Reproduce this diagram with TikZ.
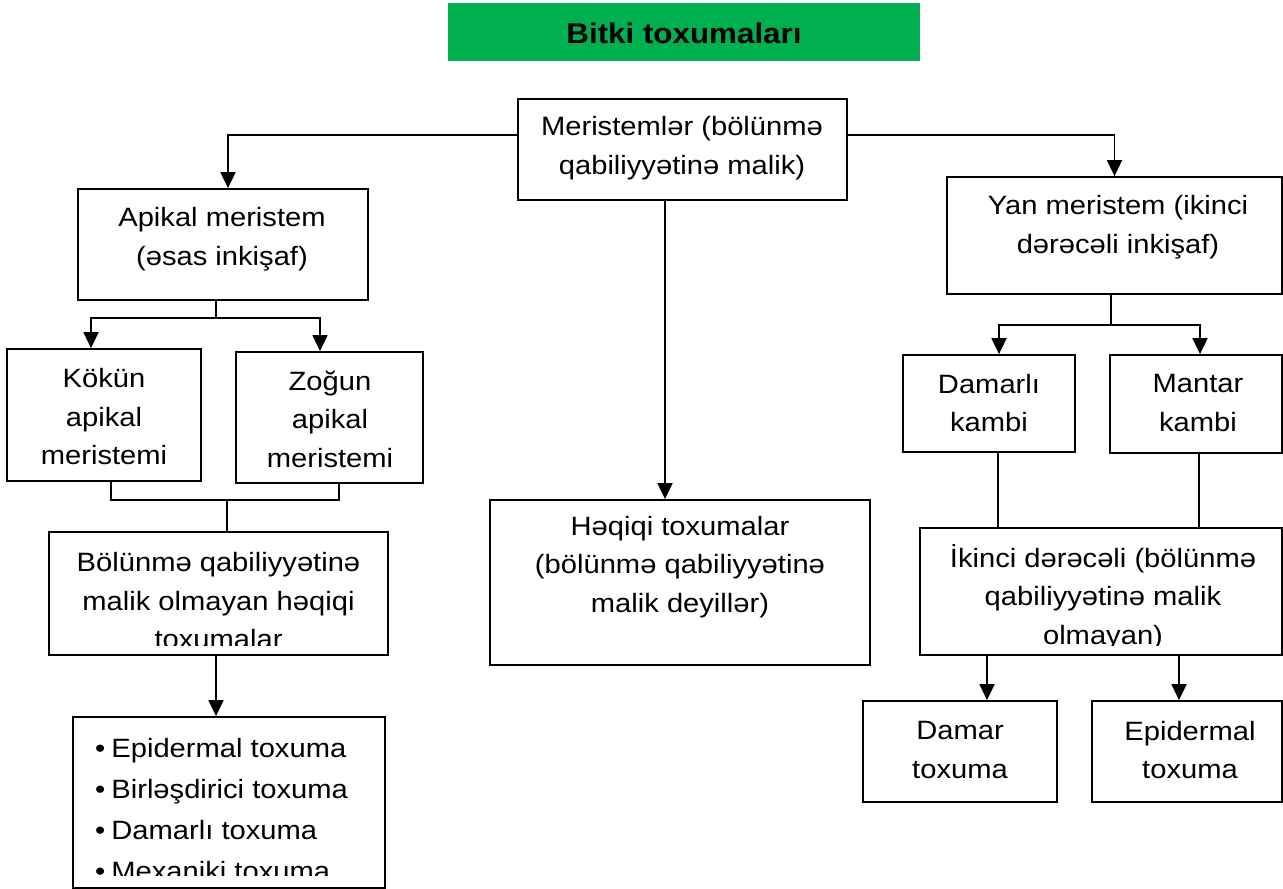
\documentclass[tikz,border=0pt]{standalone}
\usepackage{fontspec}
\setmainfont[FakeStretch=1.1]{Liberation Sans}
\usetikzlibrary{arrows.meta}
\definecolor{tgreen}{HTML}{00B050}
\newcommand{\fs}{\fontsize{26.5}{38.5}\selectfont}
\tikzset{
  box/.style={draw, line width=1.8pt, inner sep=0pt},
  txt/.style={align=center, font=\fs, inner sep=0pt},
  ln/.style={line width=1.8pt},
  arr/.style={line width=1.8pt, -{Triangle[width=15pt,length=16pt]}}
}
\begin{document}
\begin{tikzpicture}[x=1pt,y=-1pt]
\useasboundingbox (0,0) rectangle (1283,889);
% boxes
\node[fill=tgreen, minimum width=472pt, minimum height=58pt, inner sep=0pt] (title) at (684,32) {};
\node[box, minimum width=329pt, minimum height=101pt] (mer) at (682.5,149.5) {};
\node[box, minimum width=290pt, minimum height=111pt] (api) at (223,244.5) {};
\node[box, minimum width=194pt, minimum height=132pt] (kok) at (104,415) {};
\node[box, minimum width=187pt, minimum height=131pt] (zog) at (329.5,417.5) {};
\node[box, minimum width=339pt, minimum height=123pt] (bol) at (218.5,593.5) {};
\node[box, minimum width=312pt, minimum height=171pt] (list) at (229,802.5) {};
\node[box, minimum width=380pt, minimum height=165pt] (heq) at (680,582.5) {};
\node[box, minimum width=335pt, minimum height=117pt] (yan) at (1114.5,235.5) {};
\node[box, minimum width=172pt, minimum height=97pt] (dam) at (989,403.5) {};
\node[box, minimum width=172pt, minimum height=98pt] (man) at (1196,404) {};
\node[box, minimum width=362pt, minimum height=127pt] (iki) at (1101,591.5) {};
\node[box, minimum width=194pt, minimum height=101pt] (dt) at (960,751.5) {};
\node[box, minimum width=190pt, minimum height=101pt] (et) at (1187,751.5) {};
% texts
\node[txt, font=\fontsize{28.5}{32}\selectfont\bfseries] at (684,33) {Bitki toxumaları};
\node[txt] at (682,148) {Meristemlər (bölünmə\\qabiliyyətinə malik)};
\node[txt] at (222,239) {Apikal meristem\\(əsas inkişaf)};
\node[txt] at (104,417) {Kökün\\apikal\\meristemi};
\node[txt] at (330,419) {Zoğun\\apikal\\meristemi};
\begin{scope}
\clip ([yshift=10pt]bol.south west) rectangle (bol.north east);
\node[txt] at (218.5,601) {Bölünmə qabiliyyətinə\\malik olmayan həqiqi\\toxumalar};
\end{scope}
\begin{scope}
\clip ([yshift=13pt]list.south west) rectangle (list.north east);
\node[txt, align=left, anchor=west, font=\fontsize{26.5}{41}\selectfont] at (95,810) {\textbullet\hspace{6pt}Epidermal toxuma\\\textbullet\hspace{6pt}Birləşdirici toxuma\\\textbullet\hspace{6pt}Damarlı toxuma\\\textbullet\hspace{6pt}Mexaniki toxuma};
\end{scope}
\node[txt] at (680,567) {Həqiqi toxumalar\\(bölünmə qabiliyyətinə\\malik deyillər)};
\node[txt] at (1118,227) {Yan meristem (ikinci\\dərəcəli inkişaf)};
\node[txt] at (989,403) {Damarlı\\kambi};
\node[txt] at (1198,403) {Mantar\\kambi};
\begin{scope}
\clip ([yshift=10pt]iki.south west) rectangle (iki.north east);
\node[txt] at (1103,597) {İkinci dərəcəli (bölünmə\\qabiliyyətinə malik\\olmayan)};
\end{scope}
\node[txt] at (960,750) {Damar\\toxuma};
\node[txt] at (1190,750) {Epidermal\\toxuma};
% connectors
\draw[arr] ([yshift=14.5pt]mer.west) -| ([xshift=5pt]api.north);
\draw[arr] ([yshift=14.5pt]mer.east) -| (yan.north);
\draw[arr] ([xshift=-17.5pt]mer.south) -- ([xshift=-15pt]heq.north);
\coordinate (j1) at (216,318);
\draw[ln] ([xshift=-7pt]api.south) -- (j1);
\draw[arr] (j1) -| ([xshift=-13pt]kok.north);
\draw[arr] (j1) -| ([xshift=-9.5pt]zog.north);
\coordinate (j2) at (227,500);
\draw[ln] ([xshift=7pt]kok.south) |- (j2) -| ([xshift=9.5pt]zog.south);
\draw[ln] (j2) -- ([xshift=8.5pt]bol.north);
\draw[arr] ([xshift=-2.5pt]bol.south) -- ([xshift=-13pt]list.north);
\coordinate (j3) at (1111,325);
\draw[ln] ([xshift=-3.5pt]yan.south) -- (j3);
\draw[arr] (j3) -| ([xshift=10pt]dam.north);
\draw[arr] (j3) -| ([xshift=4pt]man.north);
\draw[ln] ([xshift=9pt]dam.south) -- ([xshift=9pt]dam.south |- iki.north);
\draw[ln] ([xshift=3pt]man.south) -- ([xshift=3pt]man.south |- iki.north);
\draw[arr] ([xshift=27pt]dt.north |- iki.south) -- ([xshift=27pt]dt.north);
\draw[arr] ([xshift=-8pt]et.north |- iki.south) -- ([xshift=-8pt]et.north);
\end{tikzpicture}
\end{document}
